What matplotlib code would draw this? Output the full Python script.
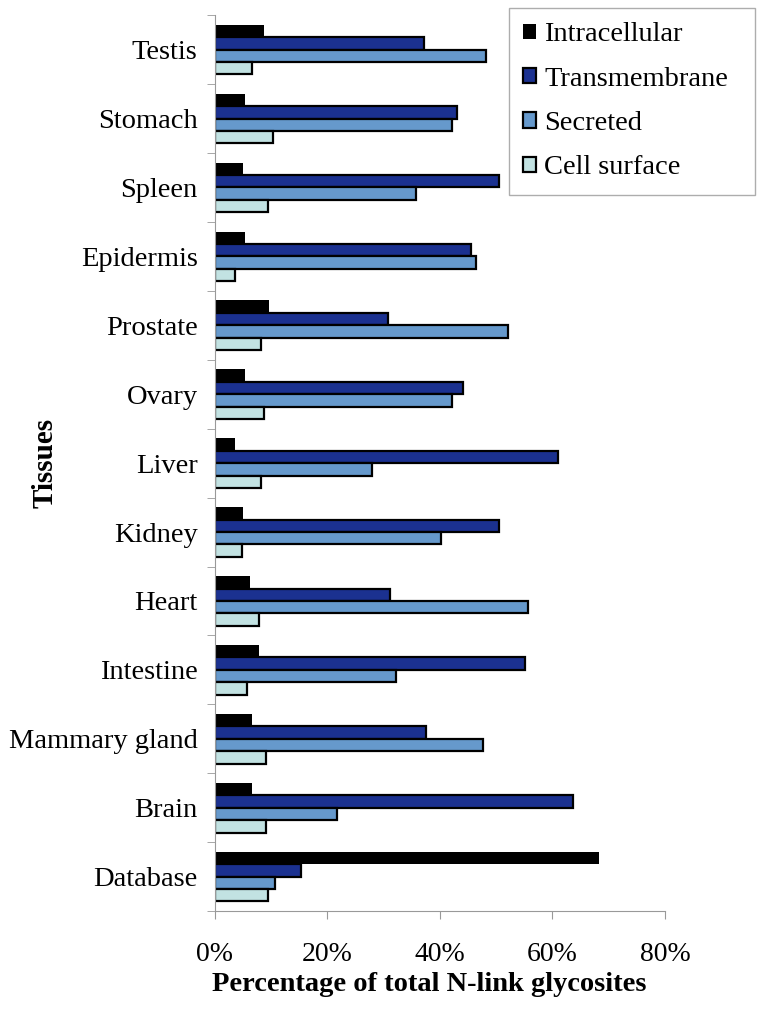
"""Glycosite localisation per tissue, horizontal grouped bars."""
import matplotlib
matplotlib.use("Agg")
import matplotlib.pyplot as plt
from matplotlib.ticker import FixedLocator
import numpy as np

plt.rcParams["font.family"] = ["Liberation Serif", "DejaVu Serif"]

TISSUES = ["Testis", "Stomach", "Spleen", "Epidermis", "Prostate", "Ovary",
           "Liver", "Kidney", "Heart", "Intestine", "Mammary gland", "Brain",
           "Database"]
SERIES = ["Intracellular", "Transmembrane", "Secreted", "Cell surface"]

intracellular = [8.7, 5.4, 5.0, 5.3, 9.6, 5.3, 3.6, 5.0, 6.2, 7.9, 6.6, 6.6, 68.3]
transmembrane = [37.2, 43.1, 50.5, 45.5, 30.8, 44.1, 61.0, 50.5, 31.2, 55.2, 37.6, 63.7, 15.3]
secreted = [48.1, 42.1, 35.8, 46.4, 52.1, 42.1, 27.9, 40.2, 55.7, 32.1, 47.6, 21.7, 10.6]
cell_surface = [6.5, 10.3, 9.4, 3.6, 8.2, 8.7, 8.2, 4.8, 7.9, 5.7, 9.1, 9.1, 9.5]

COLORS = ["#000000", "#1b3190", "#6699cc", "#c2e2e2"]
AXIS_GREY = "#999999"

fig = plt.figure(figsize=(7.64, 10.09), dpi=100)
ax = fig.add_axes([0.2814, 0.097, 0.589, 0.888])

y = np.arange(len(TISSUES))
h = 0.18
values = [intracellular, transmembrane, secreted, cell_surface]
for i, (name, vals, col) in enumerate(zip(SERIES, values, COLORS)):
    ax.barh(y + (i - 1.5) * h, vals, height=h, color=col,
            edgecolor="black", linewidth=1.6 if i else 0.0, label=name)

ax.set_ylim(len(TISSUES) - 0.5, -0.5)
ax.set_xlim(0, 80)

# category labels in the middle, tick marks on the boundaries
ax.set_yticks(y)
ax.set_yticklabels(TISSUES, fontsize=20.5)
ax.tick_params(axis="y", which="major", length=0, pad=12.5)
ax.yaxis.set_minor_locator(FixedLocator(np.arange(-0.5, len(TISSUES), 1)))
ax.tick_params(axis="y", which="minor", length=6, color=AXIS_GREY)

ax.set_xticks([0, 20, 40, 60, 80])
ax.set_xticklabels(["0%", "20%", "40%", "60%", "80%"], fontsize=20)
ax.tick_params(axis="x", length=6, color=AXIS_GREY, pad=16)

for s in ["top", "right"]:
    ax.spines[s].set_visible(False)
ax.spines["left"].set_color(AXIS_GREY)
ax.spines["bottom"].set_color(AXIS_GREY)

ax.set_xlabel("Percentage of total N-link glycosites", fontsize=20.5,
              fontweight="bold")
ax.xaxis.set_label_coords(0.476, -0.068)
ax.set_ylabel("Tissues", fontsize=21, fontweight="bold")
ax.yaxis.set_label_coords(-0.347, 0.5)

leg = fig.legend(loc="upper left", bbox_to_anchor=(0.666, 0.992, 0.322, 0),
                 mode="expand", fontsize=20.5, frameon=True, fancybox=False,
                 handlelength=0.45, handleheight=0.45, handletextpad=0.3,
                 labelspacing=0.68, borderpad=0.5, borderaxespad=0)
leg.get_frame().set_edgecolor(AXIS_GREY)
leg.get_frame().set_linewidth(1.0)

fig.savefig("out.png", dpi=100)
